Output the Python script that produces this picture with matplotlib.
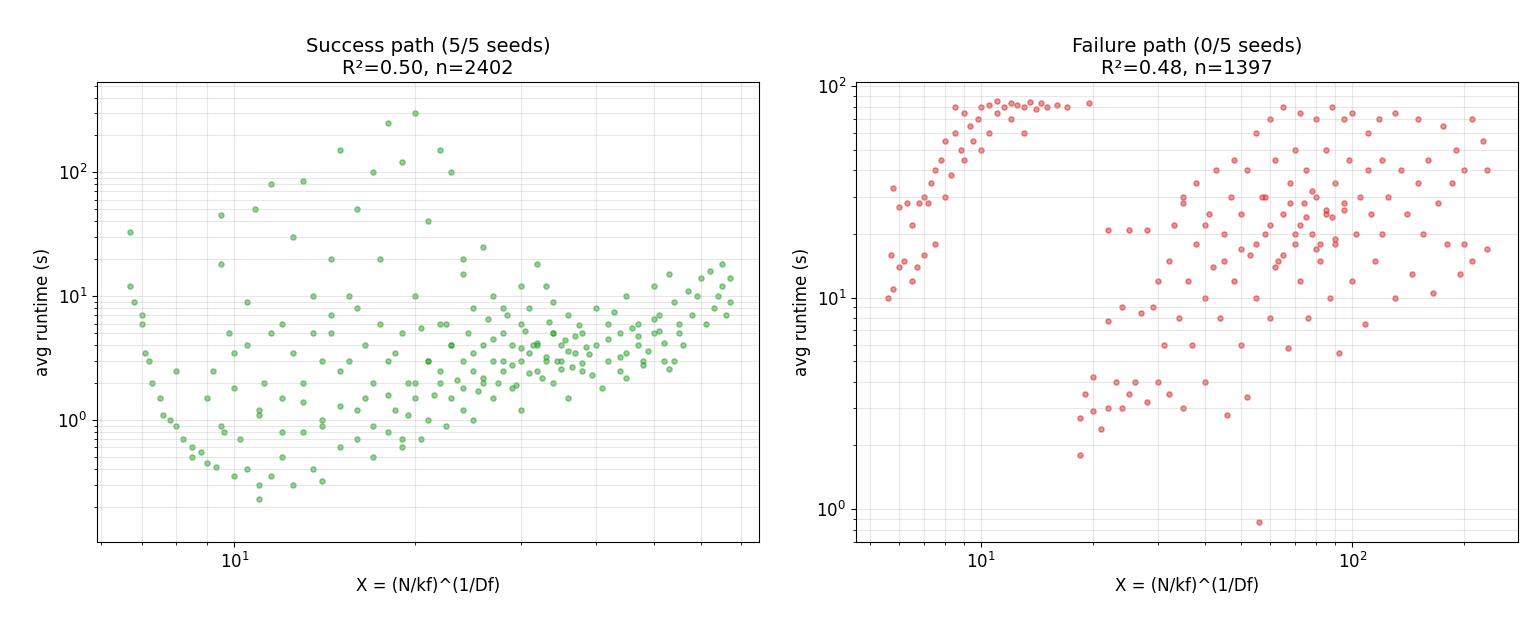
import matplotlib
matplotlib.use("Agg")
import matplotlib.pyplot as plt

# success path points (X, avg runtime)
succ_x = [6.7, 6.7, 6.8, 7.0, 7.0, 7.1, 7.2, 7.3, 7.5, 7.6, 7.8, 8.0, 8.0, 8.2, 8.5, 8.5, 8.8, 9.0, 9.0, 9.2,
          9.3, 9.5, 9.5, 9.6, 9.8, 10, 10, 10, 10.2, 10.5, 10.5, 10.8, 11, 11, 11, 11.2, 11.5, 11.5, 12, 12,
          12, 12.5, 12.5, 13, 13, 13, 13.5, 13.5, 14, 14, 14, 14.5, 14.5, 15, 15, 15, 15.5, 16, 16, 16,
          16.5, 17, 17, 17, 17.5, 18, 18, 18, 18.5, 19, 19, 19, 19.5, 20, 20, 20, 20.5, 21, 21, 21,
          22, 22, 22, 22.5, 23, 23, 23, 24, 24, 24, 25, 25, 25, 26, 26, 27, 27, 27, 28, 28,
          29, 29, 30, 30, 30, 31, 31, 32, 32, 33, 33, 34, 34, 35, 35, 36, 36, 37, 38, 38,
          40, 40, 41, 42, 42, 44, 44, 45, 45, 47, 47, 48, 50, 50, 51, 52, 53, 54, 55, 56,
          57, 58, 59, 60, 61, 62, 63, 64, 65, 65, 66, 67, 67,
          20, 21, 22, 23, 24, 25, 26, 27, 28, 29, 30, 31, 32, 33, 34, 35, 36, 37, 38, 39,
          20.5, 21.5, 22.5, 23.5, 24.5, 25.5, 26.5, 27.5, 28.5, 29.5, 30.5, 31.5, 32.5, 33.5, 34.5, 35.5, 36.5, 37.5, 38.5, 39.5,
          16, 17, 18, 19, 15, 14, 13, 12, 11, 16.5, 17.5, 18.5, 19.5, 15.5, 14.5, 13.5, 12.5, 11.5, 10.5, 9.5,
          42, 44, 46, 48, 50, 52, 54, 43, 45, 47, 49, 51, 53, 55, 24, 26, 28, 30, 32, 34]
succ_y = [33, 12, 9, 7, 6, 3.5, 3, 2, 1.5, 1.1, 1.0, 0.9, 2.5, 0.7, 0.6, 0.5, 0.55, 0.45, 1.5, 2.5,
          0.42, 18, 45, 0.8, 5, 0.35, 1.8, 3.5, 0.7, 0.4, 9, 50, 0.3, 0.23, 1.2, 2, 80, 0.35, 6, 1.5,
          0.5, 0.3, 30, 85, 2, 0.8, 10, 0.4, 3, 1.0, 0.32, 20, 5, 150, 1.3, 0.6, 3, 50, 0.7, 8,
          1.5, 100, 2, 0.5, 20, 250, 3, 0.8, 1.2, 120, 5, 0.6, 2, 300, 10, 1.5, 0.7, 40, 3, 1.0,
          150, 6, 2, 0.9, 100, 4, 1.5, 20, 3, 1.2, 8, 2.5, 1.0, 4, 2, 10, 3, 1.5, 5, 2.5,
          4, 1.8, 6, 3, 1.2, 8, 3.5, 4, 2.5, 12, 3, 5, 2, 4, 3, 7, 1.5, 3.5, 5, 2.5,
          4, 8, 1.8, 3, 6, 5, 2.5, 10, 3.5, 6, 4, 3, 12, 5, 7, 3, 15, 9, 5, 4,
          11, 7, 10, 14, 6, 16, 8, 10, 12, 18, 7, 14, 9,
          2.0, 3.0, 2.5, 4.0, 1.8, 3.5, 2.2, 4.5, 3.0, 2.8, 3.8, 2.4, 4.2, 3.2, 5.0, 2.6, 3.6, 4.8, 2.9, 3.4,
          5.5, 1.6, 6.0, 2.1, 5.0, 1.7, 6.5, 2.0, 7.0, 1.9, 5.2, 4.0, 2.2, 6.2, 3.0, 4.4, 2.7, 5.8, 3.9, 2.3,
          1.2, 0.9, 1.6, 0.7, 2.5, 0.9, 1.4, 0.8, 1.1, 4.0, 6.0, 3.5, 1.1, 10, 7, 5, 3.5, 5, 4, 0.9,
          4.5, 3.2, 5.5, 2.8, 6.5, 4.2, 3.0, 7.5, 2.2, 4.8, 3.6, 5.2, 2.6, 6.0, 15, 25, 8, 12, 18, 9]

# failure path points
fail_x = [5.6, 5.7, 5.8, 5.8, 6.0, 6.0, 6.2, 6.3, 6.5, 6.5, 6.7, 6.8, 7.0, 7.0, 7.2, 7.3, 7.5, 7.5, 7.8, 8.0,
          8.0, 8.3, 8.5, 8.5, 8.8, 9.0, 9.0, 9.3, 9.5, 9.8, 10, 10, 10.5, 10.5, 11, 11, 11.5, 12, 12, 12.5,
          13, 13, 13.5, 14, 14.5, 15, 16, 17, 19.5,
          18.5, 18.5, 19, 20, 20, 21, 22, 22, 22, 23, 24, 24, 25, 25, 26, 27, 28, 28, 29, 30,
          30, 31, 32, 32, 33, 34, 35, 35, 36, 37, 38, 38, 40, 40, 41, 42, 43, 44, 45, 46,
          47, 48, 48, 50, 50, 52, 52, 53, 55, 55, 56, 57, 58, 60, 60, 62, 63, 65, 65, 67,
          68, 70, 70, 72, 72, 74, 75, 76, 78, 80, 80, 82, 85, 85, 87, 88, 90, 90, 92, 95,
          95, 98, 100, 100, 102, 105, 108, 110, 110, 112, 115, 118, 120, 120, 125, 130, 130, 135, 140, 145,
          150, 150, 155, 160, 165, 170, 175, 180, 185, 190, 195, 200, 200, 210, 230, 230, 225, 210,
          55, 60, 65, 70, 75, 80, 85, 90, 58, 62, 68, 72, 78, 82, 88, 95, 45, 50, 40, 35]
fail_y = [10, 16, 11, 33, 14, 27, 15, 28, 12, 22, 14, 28, 16, 30, 28, 35, 40, 18, 45, 30,
          55, 38, 60, 80, 50, 45, 75, 65, 55, 70, 50, 80, 82, 60, 85, 75, 80, 83, 70, 82,
          80, 60, 84, 78, 83, 80, 82, 80, 83,
          1.8, 2.7, 3.5, 4.2, 2.9, 2.4, 3.0, 7.8, 21, 4.0, 3.0, 9.0, 3.5, 21, 4.0, 8.5, 3.2, 21, 9.0, 12,
          4.0, 6.0, 3.5, 15, 22, 8.0, 3.0, 28, 12, 6.0, 18, 35, 10, 4.0, 25, 14, 40, 8.0, 20, 2.8,
          30, 45, 12, 6.0, 25, 3.4, 40, 16, 60, 10, 0.87, 30, 20, 70, 8.0, 45, 15, 25, 80, 5.8,
          35, 18, 50, 75, 12, 28, 40, 8.0, 20, 70, 30, 15, 50, 25, 10, 80, 35, 18, 5.5, 70,
          28, 45, 12, 75, 20, 30, 7.5, 60, 40, 25, 15, 70, 45, 20, 30, 10, 75, 40, 25, 13,
          70, 35, 20, 45, 10.5, 28, 65, 18, 35, 50, 13, 40, 18, 70, 17, 40, 55, 15,
          18, 22, 16, 20, 24, 17, 26, 19, 30, 14, 28, 22, 32, 18, 24, 26, 15, 17, 22, 30]

fig, axes = plt.subplots(1, 2, figsize=(15.4, 6.3), dpi=100)

panels = [
    (axes[0], succ_x, succ_y, "#2ca02c", "Success path (5/5 seeds)\nR²=0.50, n=2402", (5.9, 75), (0.104, 535)),
    (axes[1], fail_x, fail_y, "#d62728", "Failure path (0/5 seeds)\nR²=0.48, n=1397", (4.6, 280), (0.70, 105)),
]
for ax, xs, ys, col, title, xl, yl in panels:
    ax.scatter(xs, ys, s=14, c=col, alpha=0.5)
    ax.set_xscale("log"); ax.set_yscale("log")
    ax.set_xlim(*xl); ax.set_ylim(*yl)
    ax.grid(True, which="both", alpha=0.3)
    ax.set_title(title, fontsize=14)
    ax.set_xlabel("X = (N/kf)^(1/Df)", fontsize=12)
    ax.set_ylabel("avg runtime (s)", fontsize=12)
    ax.tick_params(labelsize=12)

plt.subplots_adjust(left=0.063, right=0.986, top=0.87, bottom=0.14, wspace=0.146)
plt.savefig("out.png", dpi=100)
